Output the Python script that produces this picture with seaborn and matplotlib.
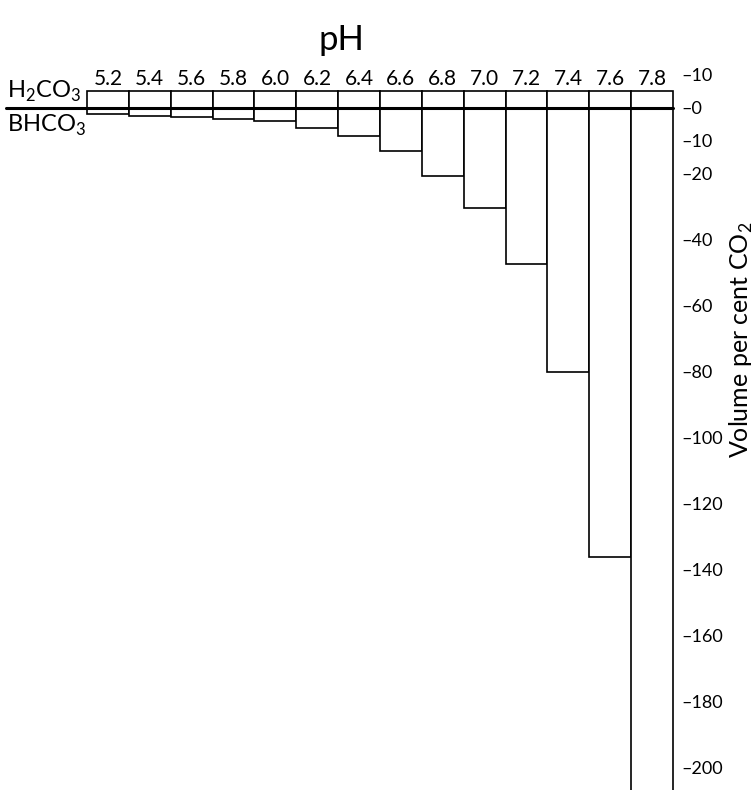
import matplotlib
matplotlib.use("Agg")
import matplotlib.pyplot as plt
import seaborn as sns

# pH steps and volume per cent CO2
ph = ["5.2", "5.4", "5.6", "5.8", "6.0", "6.2", "6.4", "6.6", "6.8", "7.0", "7.2", "7.4", "7.6", "7.8"]
h2co3 = [5.0] * 14
bhco3 = [-1.9, -2.4, -2.7, -3.2, -4.1, -6.2, -8.5, -12.9, -20.6, -30.4, -47.3, -80.0, -136.0, -215.0]

ytick_vals = [10, 0, -10, -20, -40, -60, -80, -100, -120, -140, -160, -180, -200]
ytick_text = ["–10", "–0", "–10", "–20", "–40", "–60", "–80", "–100", "–120", "–140", "–160", "–180", "–200"]

sns.set_style("white")
plt.rcParams['font.family'] = ['Lato', 'DejaVu Sans']
plt.rcParams['text.color'] = 'black'
plt.rcParams['xtick.color'] = 'black'
plt.rcParams['ytick.color'] = 'black'
plt.rcParams['axes.labelcolor'] = 'black'
plt.rcParams['mathtext.fontset'] = 'custom'
plt.rcParams['mathtext.rm'] = 'Lato'

W, H = 756, 790
fig = plt.figure(figsize=(W / 100, H / 100), dpi=100)
# axes box in pixels: left 87, right 673, top 70, bottom 790
ax = fig.add_axes([87 / W, 0, (673 - 87) / W, (790 - 70) / H])

sns.barplot(x=ph, y=h2co3, order=ph, color="white", edgecolor="black",
            linewidth=1.2, width=1, saturation=1, ax=ax)
sns.barplot(x=ph, y=bhco3, order=ph, color="white", edgecolor="black",
            linewidth=1.2, width=1, saturation=1, ax=ax)
for p in ax.patches:
    p.set_clip_on(False)

ax.set_xlim(-0.5, 13.5)
ax.set_ylim(-206.7, 11.5)

# thick zero line running out to the left labels
ax.axhline(0, xmin=(6 - 87) / 586, xmax=1, color="black", lw=2.2, clip_on=False, zorder=5)

for s in ax.spines.values():
    s.set_visible(False)

# pH labels along the top
ax.xaxis.tick_top()
ax.tick_params(axis="x", length=0, labelsize=15, pad=-14)
ax.set_xlabel("")
ax.text(0.435, 1.042, "pH", transform=ax.transAxes, ha="center", va="center", fontsize=25)

# volume scale on the right
ax.yaxis.tick_right()
ax.set_yticks(ytick_vals)
ax.set_yticklabels(ytick_text)
ax.tick_params(axis="y", length=0, labelsize=13, pad=6)
ax.yaxis.set_label_position("right")
ax.set_ylabel("Volume per cent CO$_2$", fontsize=18, rotation=90)
ax.yaxis.set_label_coords(1.093, 0.625)

ax.text(-2.4, 1.2, "H$_2$CO$_3$", ha="left", va="bottom", fontsize=17)
ax.text(-2.4, -1.6, "BHCO$_3$", ha="left", va="top", fontsize=17)

fig.savefig("out.png", dpi=100)
